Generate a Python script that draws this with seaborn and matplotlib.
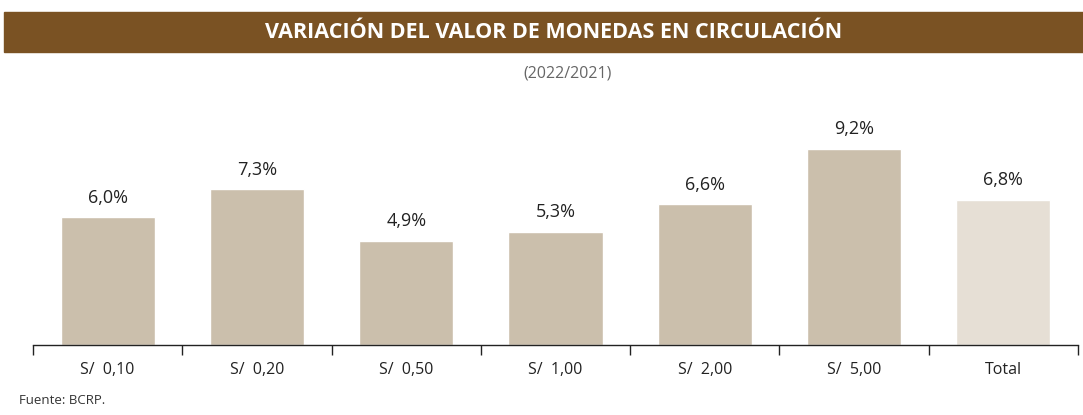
import pandas as pd
import matplotlib.pyplot as plt
import seaborn as sns
from matplotlib.patches import Rectangle

# Data
categories = ['S/  0,10', 'S/  0,20', 'S/  0,50', 'S/  1,00', 'S/  2,00', 'S/  5,00', 'Total']
values = [6.0, 7.3, 4.9, 5.3, 6.6, 9.2, 6.8]
colors = ['#CBBFAC'] * 6 + ['#E6DFD5']

df = pd.DataFrame({'Moneda': categories, 'Variacion': values})

sns.set_style('white')
plt.rcParams['font.family'] = ['Open Sans', 'DejaVu Sans']

fig = plt.figure(figsize=(10.83, 4.15), dpi=100)
ax = fig.add_axes([33 / 1083, 70 / 415, 1045 / 1083, 245 / 415])

sns.barplot(x='Moneda', y='Variacion', data=df, hue='Moneda', palette=colors,
            width=0.63, legend=False, ax=ax, saturation=1)

ax.set_ylim(0, 11.5)
ax.set_xlim(-0.5, len(categories) - 0.5)
ax.set_xlabel('')
ax.set_ylabel('')
ax.set_yticks([])

# Value labels
for i, v in enumerate(values):
    ax.text(i, v + 0.5, f'{v:.1f}%'.replace('.', ','), ha='center', va='bottom',
            fontsize=13, color='#222222')

# Axis styling: only bottom spine, ticks at category boundaries
for s in ['top', 'right', 'left']:
    ax.spines[s].set_visible(False)
ax.spines['bottom'].set_color('#222222')
ax.spines['bottom'].set_linewidth(1)
ax.set_xticks(range(len(categories)))
ax.set_xticklabels(categories, fontsize=11.5, color='#222222')
ax.tick_params(axis='x', which='major', length=0, pad=12)
ax.set_xticks([i - 0.5 for i in range(len(categories) + 1)], minor=True)
ax.tick_params(axis='x', which='minor', bottom=True, length=7, width=1,
               color='#222222', direction='out')

# Title banner
fig.patches.append(Rectangle((4 / 1083, (415 - 52) / 415), 1, 40 / 415,
                             transform=fig.transFigure, color='#7A5223', zorder=0))
fig.text(554 / 1083, (415 - 32) / 415, 'VARIACIÓN DEL VALOR DE MONEDAS EN CIRCULACIÓN',
         ha='center', va='center', color='white', fontsize=15.5, fontweight='bold')
fig.text(568 / 1083, (415 - 73) / 415, '(2022/2021)', ha='center', va='center',
         color='#666666', fontsize=11.5)
fig.text(19 / 1083, (415 - 400) / 415, 'Fuente: BCRP.', ha='left', va='center',
         color='#333333', fontsize=9.5)

fig.savefig('out.png', dpi=100)
